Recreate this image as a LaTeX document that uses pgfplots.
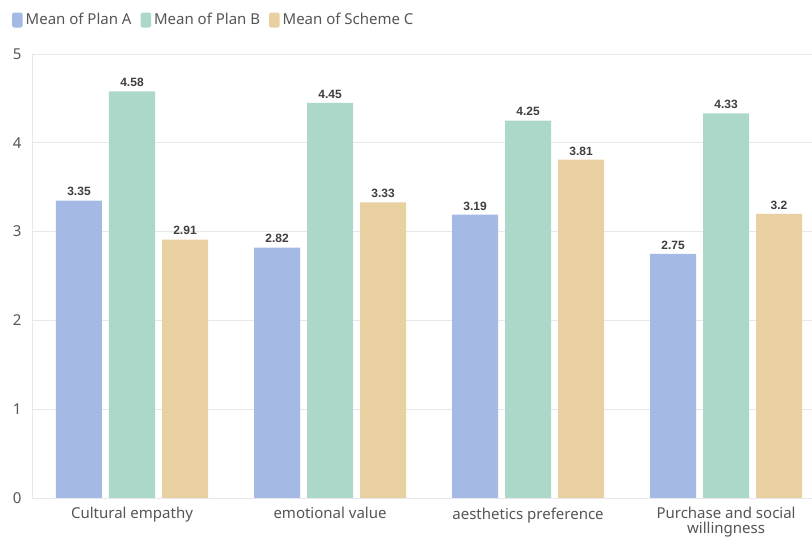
\documentclass[border=0pt]{standalone}
\usepackage{fontspec}
\setmainfont{Noto Sans}
\newfontfamily\lblfont{Liberation Sans}
\usepackage{pgfplots}
\pgfplotsset{compat=1.18}
\definecolor{cA}{HTML}{A4B9E3}
\definecolor{cB}{HTML}{ACD8CA}
\definecolor{cC}{HTML}{E9D0A0}
\definecolor{gridc}{HTML}{E8E8EC}
\definecolor{txt}{HTML}{555555}
\definecolor{lbl}{HTML}{3F3F3F}
\begin{document}
\begin{tikzpicture}
\useasboundingbox (0,0) rectangle (812pt,538pt);
\begin{axis}[
  at={(32pt,40pt)}, anchor=south west,
  scale only axis, width=780pt, height=444pt,
  xmin=-0.505, xmax=3.434, ymin=0, ymax=5,
  axis x line*=bottom, axis y line*=left,
  axis line style={draw=none},
  ymajorgrids, grid style={gridc, line width=0.8pt},
  ytick={0,1,2,3,4,5},
  xtick={0,1,2,3},
  xticklabels={Cultural empathy, emotional value, aesthetics preference, {Purchase and social\\willingness}},
  xticklabel style={align=center, font=\fontsize{15}{15}\selectfont, text=txt, yshift=-6pt},
  yticklabel style={font=\fontsize{15}{15}\selectfont, text=txt, xshift=-7pt},
  /pgf/number format/assume math mode=true,
  major tick length=0pt,
  ybar, bar width=46pt,
  nodes near coords,
  every node near coord/.append style={font=\lblfont\bfseries\fontsize{12}{12}\selectfont, text=lbl, yshift=1pt},
  legend columns=3,
  legend style={at={(0,1)}, anchor=west, xshift=-20pt, yshift=34pt, draw=none, fill=none, inner sep=0pt,
    font=\fontsize{15}{15}\selectfont, text=txt,
    /tikz/every odd column/.append style={column sep=1pt},
    /tikz/every even column/.append style={column sep=7pt}},
  legend image code/.code={\fill[#1, rounded corners=2pt] (0pt,-7.5pt) rectangle (10.5pt,7.5pt);},
]
\draw[gridc, line width=0.8pt] (axis cs:-0.505,0) -- (axis cs:-0.505,5);
\addplot[fill=cA, draw=none, bar shift=-53pt] coordinates {(0,3.35) (1,2.82) (2,3.19) (3,2.75)};
\addplot[fill=cB, draw=none, bar shift=0pt] coordinates {(0,4.58) (1,4.45) (2,4.25) (3,4.33)};
\addplot[fill=cC, draw=none, bar shift=53pt] coordinates {(0,2.91) (1,3.33) (2,3.81) (3,3.2)};
\legend{Mean of Plan A, Mean of Plan B, Mean of Scheme C}
\end{axis}
\end{tikzpicture}
\end{document}
